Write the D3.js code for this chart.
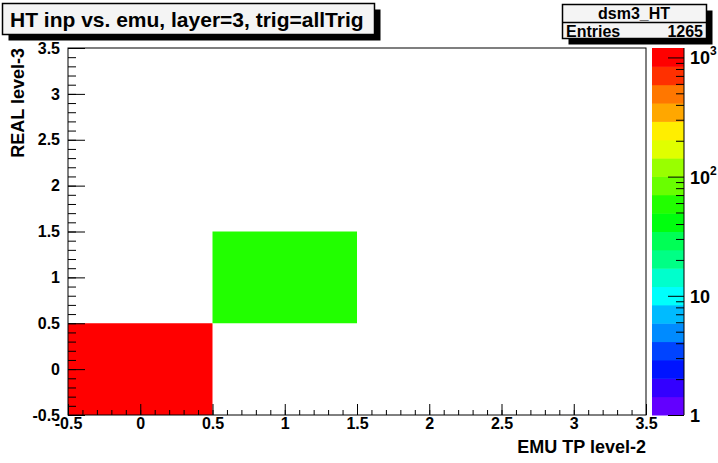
<!DOCTYPE html>
<html>
<head>
<meta charset="utf-8">
<script src="https://cdn.jsdelivr.net/npm/d3@7"></script>
<style>
  body { margin: 0; background: #fff; }
  svg { display: block; font-family: "Liberation Sans", Arial, Helvetica, sans-serif; font-weight: bold; }
</style>
</head>
<body>
<svg id="chart" width="718" height="463"></svg>
<script>
// bin edges (4 x 4 bins, width 1)
var xBins = [-0.5, 0.5, 1.5, 2.5, 3.5];
var yBins = [-0.5, 0.5, 1.5, 2.5, 3.5];
// counts[row = y bin][col = x bin]
var counts = [
  [1200, 0, 0, 0],
  [0, 65, 0, 0],
  [0, 0, 0, 0],
  [0, 0, 0, 0]
];
var xTicks = [-0.5, 0, 0.5, 1, 1.5, 2, 2.5, 3, 3.5];
var yTicks = [-0.5, 0, 0.5, 1, 1.5, 2, 2.5, 3, 3.5];
var zDecades = [1, 10, 100, 1000];
var entries = 1265;
var histName = "dsm3_HT";
var title = "HT inp vs. emu, layer=3, trig=allTrig";
var xTitle = "EMU TP level-2";
var yTitle = "REAL level-3";
// ROOT default palette, 20 contour levels, bottom -> top
var palette = ["#6300ff", "#3300ff", "#0014ff", "#0044ff", "#008bff", "#00bbff", "#00fffc", "#00ffcc",
               "#00ff85", "#00ff55", "#00ff0e", "#22ff00", "#69ff00", "#99ff00", "#e0ff00", "#ffee00",
               "#ffa700", "#ff7700", "#ff3000", "#ff0000"];

var svg = d3.select("#chart");
var pLeft = 68, pRight = 646, pTop = 48, pBottom = 415;

var x = d3.scaleLinear().domain([xBins[0], xBins[xBins.length - 1]]).range([pLeft, pRight]);
var y = d3.scaleLinear().domain([yBins[0], yBins[yBins.length - 1]]).range([pBottom, pTop]);
var zmax = d3.max(counts, function (r) { return d3.max(r); });
var z = d3.scaleLog().domain([1, zmax]).range([pBottom, pTop]);
var nLev = palette.length;

function colorOf(v) {
  var k = Math.floor(Math.log10(v) / Math.log10(zmax) * nLev);
  return palette[Math.max(0, Math.min(nLev - 1, k))];
}

// cells
var cells = [];
counts.forEach(function (row, j) {
  row.forEach(function (v, i) {
    if (v > 0) cells.push({ i: i, j: j, v: v });
  });
});
svg.append("g").selectAll("rect").data(cells).enter().append("rect")
  .attr("x", function (d) { return x(xBins[d.i]); })
  .attr("y", function (d) { return y(yBins[d.j + 1]); })
  .attr("width", function (d) { return x(xBins[d.i + 1]) - x(xBins[d.i]); })
  .attr("height", function (d) { return y(yBins[d.j]) - y(yBins[d.j + 1]); })
  .attr("fill", function (d) { return colorOf(d.v); });

// minor ticks every 0.1
var minor = d3.range(-5, 36).map(function (d) { return d / 10; });
var fmt = function (d) { return String(d); };

function styleAxis(g) {
  g.select(".domain").remove();
  g.selectAll("line").attr("stroke", "#000").attr("stroke-width", 1);
  g.selectAll("text").attr("font-size", "16px").attr("font-weight", "bold").attr("fill", "#000")
    .attr("font-family", "Liberation Sans, Arial, sans-serif");
}

svg.append("g").attr("transform", "translate(0," + pBottom + ")")
  .call(d3.axisBottom(x).tickValues(minor).tickSize(-5).tickFormat(""))
  .call(styleAxis);
svg.append("g").attr("transform", "translate(0," + pBottom + ")")
  .call(d3.axisBottom(x).tickValues(xTicks).tickSize(-11).tickPadding(3).tickFormat(fmt))
  .call(styleAxis);

svg.append("g").attr("transform", "translate(" + pLeft + ",0)")
  .call(d3.axisLeft(y).tickValues(minor).tickSize(-8).tickFormat(""))
  .call(styleAxis);
svg.append("g").attr("transform", "translate(" + pLeft + ",0)")
  .call(d3.axisLeft(y).tickValues(yTicks).tickSize(-17).tickPadding(8).tickFormat(fmt))
  .call(styleAxis);

// frame
svg.append("rect").attr("x", pLeft).attr("y", pTop)
  .attr("width", pRight - pLeft).attr("height", pBottom - pTop)
  .attr("fill", "none").attr("stroke", "#000").attr("stroke-width", 1);

// axis titles
svg.append("text").attr("x", pRight).attr("y", 453).attr("text-anchor", "end")
  .attr("font-size", "18px").text(xTitle);
svg.append("text").attr("transform", "translate(24," + pTop + ") rotate(-90)")
  .attr("text-anchor", "end").attr("font-size", "18px").text(yTitle);

// palette
var palLeft = 652, palRight = 684;
var levH = (pBottom - pTop) / nLev;
svg.append("g").selectAll("rect").data(palette).enter().append("rect")
  .attr("x", palLeft).attr("width", palRight - palLeft)
  .attr("y", function (d, i) { return pBottom - (i + 1) * levH; })
  .attr("height", levH + 0.5)
  .attr("fill", function (d) { return d; });

var zMinor = [];
zDecades.forEach(function (dec) {
  for (var m = 2; m <= 9; m++) if (dec * m <= zmax) zMinor.push(dec * m);
});
svg.append("g").attr("transform", "translate(" + palRight + ",0)")
  .call(d3.axisRight(z).tickValues(zMinor).tickSize(-8).tickFormat(""))
  .call(styleAxis);
svg.append("g").attr("transform", "translate(" + palRight + ",0)")
  .call(d3.axisRight(z).tickValues(zDecades).tickSize(-16).tickFormat(""))
  .call(styleAxis);
svg.append("line").attr("x1", palRight).attr("x2", palRight).attr("y1", pTop).attr("y2", pBottom)
  .attr("stroke", "#000");

var zl = svg.append("g").selectAll("text").data(zDecades).enter().append("text")
  .attr("x", 690).attr("y", function (d) { return z(d) + 7; })
  .attr("font-size", "18px");
zl.append("tspan").text(function (d) { return d < 100 ? String(d) : "10"; });
zl.append("tspan").attr("dy", -9).attr("font-size", "12px")
  .text(function (d) { return d < 100 ? "" : String(Math.round(Math.log10(d))); });

// title box
function box(x0, y0, w, h) {
  svg.append("rect").attr("x", x0 + 6).attr("y", y0 + 6).attr("width", w).attr("height", h).attr("fill", "#000");
  svg.append("rect").attr("x", x0).attr("y", y0).attr("width", w).attr("height", h)
    .attr("fill", "#f4f4f4").attr("stroke", "#000").attr("stroke-width", 1.5);
}
box(2.5, 3.5, 372, 31);
svg.append("text").attr("x", 10).attr("y", 27).attr("font-size", "21px").text(title);

// stats box
box(562.5, 4.5, 144, 34);
svg.append("line").attr("x1", 562.5).attr("x2", 706.5).attr("y1", 22.5).attr("y2", 22.5)
  .attr("stroke", "#000").attr("stroke-width", 1.5);
svg.append("text").attr("x", 634).attr("y", 19).attr("text-anchor", "middle")
  .attr("font-size", "16px").text(histName);
svg.append("text").attr("x", 566).attr("y", 37).attr("font-size", "16px").text("Entries");
svg.append("text").attr("x", 703).attr("y", 37).attr("text-anchor", "end")
  .attr("font-size", "16px").text(entries);
</script>
</body>
</html>
